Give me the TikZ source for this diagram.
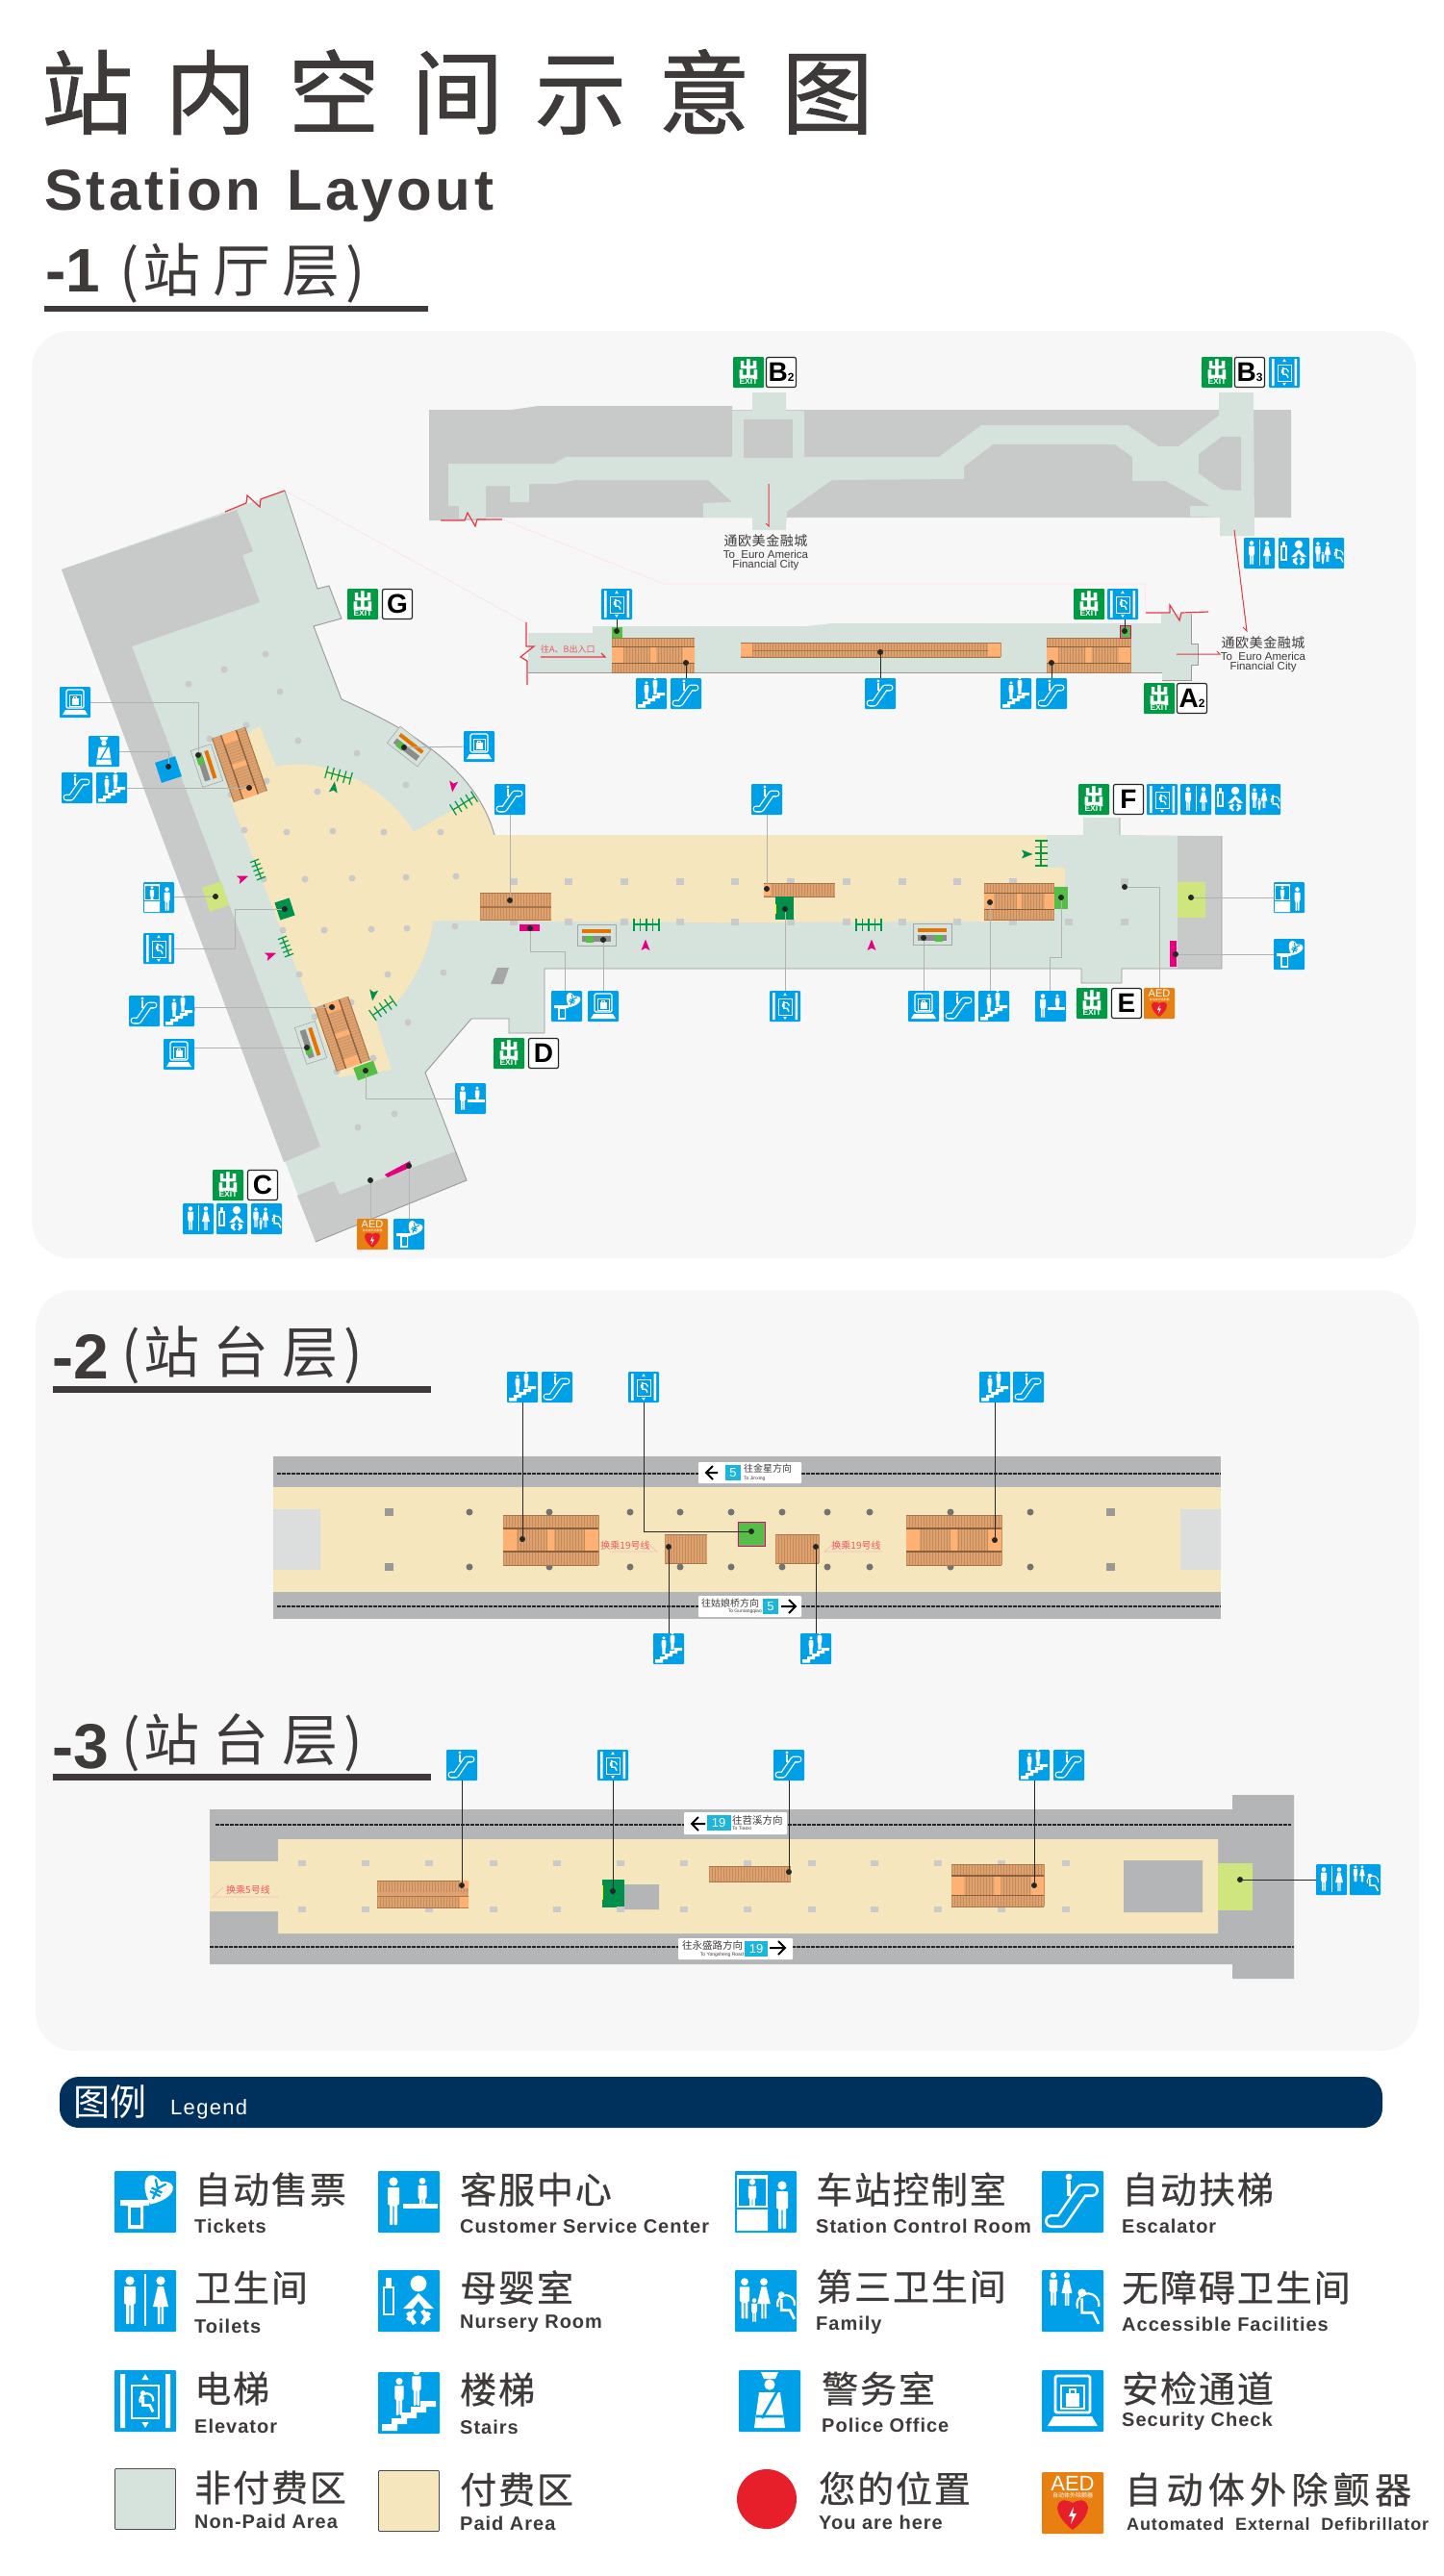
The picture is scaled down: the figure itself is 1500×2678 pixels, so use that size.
\documentclass[tikz,border=0pt]{standalone}
\usepackage{fontspec}
\setmainfont{Liberation Sans}
\newfontfamily\cjk{Noto Sans CJK SC}
\usetikzlibrary{calc}
\definecolor{ink}{HTML}{3E3A39}
\definecolor{panel}{HTML}{F7F7F7}
\definecolor{nonpaid}{HTML}{D5E3DC}
\definecolor{paid}{HTML}{F5E6BE}
\definecolor{shell}{HTML}{C8C9C9}
\definecolor{shellb}{HTML}{B4B5B6}
\definecolor{endgrey}{HTML}{DCDDDD}
\definecolor{signblue}{HTML}{00A0E9}
\definecolor{exitgreen}{HTML}{009944}
\definecolor{aedorange}{HTML}{E77F11}
\definecolor{esctan}{HTML}{DDA270}
\definecolor{eschatch}{HTML}{C48A58}
\definecolor{esclight}{HTML}{FFB173}
\definecolor{liftgreen}{HTML}{55BE47}
\definecolor{liftdark}{HTML}{00904C}
\definecolor{lime}{HTML}{CFE67F}
\definecolor{magmark}{HTML}{E4007F}
\definecolor{breakred}{HTML}{E83845}
\definecolor{herered}{HTML}{E71F2B}
\definecolor{navy}{HTML}{00305C}
\definecolor{badge}{HTML}{1CB5DC}
\definecolor{pillar}{HTML}{C9CACB}
\newcommand\pxfont[1]{\fontsize{#1}{#1}\selectfont}
\newcommand\ik{1}
\newcommand\exittext{{\cjk\bfseries\pxfont{22}出}\\[-5pt]{\bfseries\pxfont{8.5}EXIT}}
% one hatched flight, x1 y1 x2 y2
\newcommand\escband[4]{%
  \fill[esctan] (#1,#2) rectangle (#3,#4);
  \pgfmathsetmacro\hnext{#1+3}
  \foreach \hx in {#1,\hnext,...,#3} \draw[eschatch,line width=.45pt] (\hx,#2) -- (\hx,#4);
  \draw[eschatch!85!black,line width=1pt] (#1,#2) -- (#3,#2) (#1,#4) -- (#3,#4);
}
% three flights side by side
\newcommand\escwide[4]{%
  \pgfmathsetmacro\yb{#2+.27*(#4-#2)}
  \pgfmathsetmacro\yc{#2+.73*(#4-#2)}
  \pgfmathsetmacro\xb{#1+.14*(#3-#1)}
  \pgfmathsetmacro\xc{#3-.14*(#3-#1)}
  \pgfmathsetmacro\xd{(#1+#3)/2-.035*(#3-#1)}
  \pgfmathsetmacro\xe{(#1+#3)/2+.035*(#3-#1)}
  \escband{#1}{#2}{#3}{\yb}
  \escband{#1}{\yb}{#3}{\yc}
  \escband{#1}{\yc}{#3}{#4}
  \fill[esclight] (#1,\yb) rectangle (\xb,\yc) (\xc,\yb) rectangle (#3,\yc) (\xd,\yb) rectangle (\xe,\yc);
  \draw[eschatch!70!black,line width=1.2pt] (#1,\yb) -- (#3,\yb) (#1,\yc) -- (#3,\yc);
}
\newcommand\icon[3]{\node[bluesign] (#1) at (#2) {}; \pic at (#1) {#3};}
\tikzset{>=stealth,
  bluesign/.style={fill=signblue,rounded corners=1pt,minimum size=32pt,inner sep=0pt},
  exitsign/.style={fill=exitgreen,text=white,rounded corners=1pt,minimum size=32pt,inner sep=0pt,align=center},
  lettersign/.style={fill=white,draw=black!85,line width=1.2pt,rounded corners=2pt,minimum size=31pt,inner sep=0pt,font=\bfseries\pxfont{28}},
  aedsign/.style={fill=aedorange,rounded corners=1pt,minimum size=32pt,inner sep=0pt},
  ptdot/.style={circle,fill=black!85,inner sep=0pt,minimum size=6pt},
  leader/.style={black!85,line width=1pt},
  leaderl/.style={black!30,line width=1pt},
  wall/.style={black!40,line width=.9pt},
  breakline/.style={breakred,line width=1.2pt},
  ghost/.style={magmark!12,line width=.7pt},
  track/.style={black!85,line width=2pt,dash pattern=on 4pt off 1pt},
  ipen/.style={white,line width=#1pt*\ik},
  maplabel/.style={inner sep=0pt,text=ink},
  legcn/.style={anchor=west,inner sep=0pt,text=ink,font=\cjk\pxfont{38}\addfontfeature{LetterSpace=5,FakeBold=.6}},
  legen/.style={anchor=west,inner sep=0pt,text=ink,font=\bfseries\pxfont{20}\addfontfeature{LetterSpace=5}},
  redlabel/.style={inner sep=0pt,text=breakred!85,font=\cjk\pxfont{10}},
  manfig/.pic={\fill[white] (0,-10.5) circle (2.3);
    \fill[white,rounded corners=.8pt] (-3,-7.5) -- (3,-7.5) -- (3,1.5) -- (2,1.5) -- (2,12) -- (.3,12) -- (.3,2) -- (-.3,2) -- (-.3,12) -- (-2,12) -- (-2,1.5) -- (-3,1.5) -- cycle;},
  womanfig/.pic={\fill[white] (0,-10.5) circle (2.3);
    \fill[white] (-1.5,-7.5) -- (1.5,-7.5) -- (4,3) -- (1.6,3) -- (1.6,12) -- (.3,12) -- (.3,3) -- (-.3,3) -- (-.3,12) -- (-1.6,12) -- (-1.6,3) -- (-4,3) -- cycle;},
  wheelfig/.pic={\fill[white] (-1,-8) circle (1.9);
    \draw[ipen=1.4] (-1,-5.5) -- (-1,1) -- (4,1) -- (6.5,6);
    \draw[ipen=1.1] (-3,-1) arc[start angle=160,end angle=370,radius=5];},
  esc/.pic={\draw[white,line width=7pt*\ik,line cap=round,line join=round] (-11,10) -- (-6,10) -- (5,-6) -- (10,-6);
    \draw[signblue,line width=4.4pt*\ik,line cap=round,line join=round] (-11,10) -- (-6,10) -- (5,-6) -- (10,-6);
    \fill[white] (-2,-13) circle (1.7);
    \draw[ipen=1.6] (-2,-11) -- (-2,-3);},
  stairs/.pic={\fill[white] (-14,14.5) -- (-14,11) -- (-9,11) -- (-9,8) -- (-4,8) -- (-4,5) -- (1,5) -- (1,2) -- (6,2) -- (6,-1) -- (14,-1) -- (14,2) -- (9,2) -- (9,5) -- (4,5) -- (4,8) -- (-1,8) -- (-1,11) -- (-6,11) -- (-6,14.5) -- cycle;
    \pic[transform shape,scale=.78] at (-5,-3) {manfig};
    \pic[transform shape,scale=.78] at (4,-8) {manfig};},
  elev/.pic={\fill[white] (-13,-14) rectangle (-10.5,14) (10.5,-14) rectangle (13,14);
    \draw[ipen=1] (-7,-8) rectangle (7,9);
    \pic[transform shape,scale=.7] at (-.5,1.5) {wheelfig};
    \fill[white] (0,-14) -- (1.8,-11) -- (-1.8,-11) -- cycle (0,14) -- (1.8,11) -- (-1.8,11) -- cycle;},
  toilet/.pic={\pic[transform shape] at (-8,0) {manfig}; \pic[transform shape] at (8,0) {womanfig}; \draw[ipen=.8] (0,-14) -- (0,13);},
  nursery/.pic={\draw[ipen=1.2] (-13,-7) rectangle (-8,7); \fill[white] (-12,-12) rectangle (-9,-7);
    \fill[white] (5,-9) circle (4.2);
    \fill[white] (5,-4) -- (13,4) -- (8,4) -- (5,0) -- (2,4) -- (-3,4) -- cycle;
    \draw[ipen=2.2] (-.5,6) -- (3,12) (10.5,6) -- (7,12) (3,5) -- (-.5,10) (7,5) -- (10.5,10);},
  family/.pic={\pic[transform shape,scale=.85] at (-11,-1) {manfig}; \pic[transform shape,scale=.85] at (-1,-1) {womanfig};
    \pic[transform shape,scale=.5] at (-6,5) {manfig}; \pic[transform shape,scale=.9] at (9,4) {wheelfig};},
  access/.pic={\pic[transform shape,scale=.7] at (-10,-6) {manfig}; \pic[transform shape,scale=.7] at (-3,-6) {womanfig}; \pic[transform shape,scale=1.15] at (6,5) {wheelfig};},
  ticket/.pic={\fill[white] (-13,-1) -- (2,-1) -- (2,2) -- (-1,2) -- (-1,14) -- (-9,14) -- (-9,2) -- (-13,2) -- cycle;
    \fill[signblue] (-7.5,3) rectangle (-2.5,12);
    \begin{scope}[shift={(6,-6)},rotate=-25]
      \fill[white] (0,8) .. controls (-11,0) and (-9,-10) .. (0,-5) .. controls (9,-10) and (11,0) .. (0,8) -- cycle;
      \draw[signblue,line width=1.1pt*\ik] (-3,-5) -- (0,-1) -- (3,-5) (0,-1) -- (0,5) (-3,0) -- (3,0) (-3,2) -- (3,2);
    \end{scope}},
  service/.pic={\pic[transform shape] at (-8,0) {manfig}; \pic[transform shape,scale=.75] at (7,-3) {manfig};
    \fill[signblue] (0,2) rectangle (15,12);
    \fill[white] (-3,1) rectangle (15,3.5);},
  control/.pic={\fill[white] (-15,-14) rectangle (1,-12) (-15,2) rectangle (1,15);
    \draw[ipen=1] (-14.5,-12) -- (-14.5,2) (.5,-12) -- (.5,2);
    \pic[transform shape,scale=.7] at (-7,-3) {manfig};
    \fill[signblue] (-15,3) rectangle (1,3.8);
    \pic[transform shape] at (8.5,2) {manfig};},
  police/.pic={\fill[white] (-4.5,-15) -- (4.5,-15) -- (3,-11.5) -- (-3,-11.5) -- cycle;
    \fill[white] (0,-8.5) circle (2.8);
    \fill[white] (-8,14) -- (-5.5,-4.5) -- (5.5,-4.5) -- (8,14) -- cycle;
    \draw[signblue,line width=1.3pt*\ik] (4,-5) -- (-4,9) (-7,8) -- (7,8);},
  security/.pic={\draw[ipen=1.4,rounded corners=1.5pt] (-9,-13) rectangle (9,6);
    \draw[ipen=.8] (-6,-8) rectangle (6,4);
    \fill[white] (-3.5,-4) rectangle (3.5,3);
    \draw[ipen=.8] (-1.5,-4) -- (-1.5,-6) -- (1.5,-6) -- (1.5,-4);
    \fill[white] (-10,8) -- (10,8) -- (13,13) -- (-13,13) -- cycle;},
  aedmark/.pic={\pgfmathsetmacro\aedf{11*\ik}\pgfmathsetmacro\aedg{3*\ik}
    \node[text=white,inner sep=0pt,font=\pxfont{\aedf}] (aedtxt) at (0,-10) {AED};
    \node[text=white,inner sep=0pt,font=\cjk\pxfont{\aedg}] (aedsub) at (0,-4) {自动体外除颤器};
    \fill[herered] (0,14) .. controls (-12,5) and (-9,-5) .. (0,0) .. controls (9,-5) and (12,5) .. (0,14) -- cycle;
    \fill[white] (.5,2) -- (-2,7) -- (0,7) -- (-1,11) -- (2,5.5) -- (0,5.5) -- cycle;},
  rail/.pic={\draw[exitgreen,line width=1.2pt] (-13,0) -- (13,0);
    \foreach \rx in {-13,-6.5,0,6.5,13} \draw[exitgreen,line width=1.2pt] (\rx,-6.5) -- (\rx,6.5);},
  flowmark/.pic={\fill[pic actions] (0,-6.5) -- (4.5,5) -- (0,2.5) -- (-4.5,5) -- cycle;},
  gate/.pic={\draw[black!35,fill=nonpaid,line width=.6pt] (-20,-11) rectangle (20,11);
    \fill[orange!90!black] (-15,-6) rectangle (15,-2);
    \fill[black!45] (-15,1) rectangle (15,7);
    \fill[liftgreen] (3,1) rectangle (11,8);}
}
\begin{document}
\begin{tikzpicture}[x=1pt,y=-1pt]
  \useasboundingbox (0,0) rectangle (1500,2678);
  \fill[white] (0,0) rectangle (1500,2678);
  % headings
  \node[anchor=base west,inner sep=0pt,text=ink,font=\cjk\pxfont{95}\addfontfeature{LetterSpace=35,FakeBold=1.2}] (maintitle) at (43,132) {站内空间示意图};
  \node[anchor=base west,inner sep=0pt,text=ink,font=\bfseries\pxfont{60}\addfontfeature{LetterSpace=6}] (subtitle) at (46,218) {Station\kern7pt\ Layout};
  \node[anchor=base west,inner sep=0pt,text=ink,font=\bfseries\pxfont{64}] (floora) at (47,303) {-1};
  \node[anchor=base west,inner sep=0pt,text=ink,font=\cjk\pxfont{60}\addfontfeature{LetterSpace=21}] (floorat) at (124,303) {(\kern4pt 站厅层\kern6pt)};
  \fill[ink] (46,318) rectangle (445,324);
  % panels
  \fill[panel,rounded corners=40pt] (33,344) rectangle (1472,1308);
  \fill[panel,rounded corners=40pt] (37,1341) rectangle (1475,2132);
  % top hall
  \fill[shell] (446,426) -- (531,426) -- (560,422) -- (761,422) -- (761,426) -- (1342,426) -- (1342,538) -- (505,538) -- (505,541) -- (446,541) -- cycle;
  \fill[nonpaid] (466,482) -- (576,482) -- (588,475) -- (761,475) -- (761,427) -- (782,427) -- (782,408) -- (817,408) -- (817,427) -- (836,427) -- (836,475) -- (976,475) -- (1020,442) -- (1172,442) -- (1204,464) -- (1225,464) -- (1267,432) -- (1267,408) -- (1303,408) -- (1304,557) -- (1268,557) -- (1268,538) -- (1237,537) -- (1237,526) -- (1258,526) -- (1212,500) -- (1177,500) -- (1177,475) -- (1159,462) -- (1032,462) -- (1002,485) -- (1002,498) -- (865,499) -- (818,532) -- (817,551) -- (782,551) -- (782,538) -- (731,538) -- (731,523) -- (761,522) -- (736,499) -- (598,499) -- (579,503) -- (550,503) -- (550,522) -- (530,522) -- (530,505) -- (505,505) -- (505,539) -- (477,539) -- (477,526) -- (466,526) -- cycle;
  \fill[shell] (773,436) rectangle (824,476);
  \fill[shell] (1270,454) -- (1290,454) -- (1290,510) -- (1270,509) -- (1246,492) -- (1246,472) -- cycle;
  \draw[breakline] (458,541) -- (483,541) -- (486,533) -- (494,547) -- (496,540) -- (522,540);
  \draw[ghost] (522,540) -- (690,607) -- (1190,607) -- (1191,637);
  \draw[ghost] (296,510) -- (546,647);
  % second corridor
  \fill[nonpaid] (549,658) -- (616,658) -- (616,651) -- (838,651) -- (865,648) -- (1207,648) -- (1207,638) -- (1238,638) -- (1238,669) -- (1245,669) -- (1245,691) -- (1238,691) -- (1238,707) -- (1208,707) -- (1208,699) -- (549,699) -- cycle;
  \draw[wall] (549,699) -- (1208,699);
  \draw[wall] (1238,638) -- (1238,669) -- (1245,669) -- (1245,691) -- (1238,691) -- (1238,707) -- (1208,707);
  \draw[breakline] (547,647) -- (547,672) -- (555,672) -- (541,683) -- (548,687) -- (548,712);
  \draw[breakline] (1191,637) -- (1216,637) -- (1216,629) -- (1226,645) -- (1228,637) -- (1256,636);
  \node[redlabel,anchor=west,font=\cjk\pxfont{9}] (towardsab) at (562,675) {往A、B出入口};
  \draw[breakline] (562,683) -- (629,683) -- (625,679);
  \escwide{636}{663}{722}{699}
  \escband{770}{668}{1040}{676}
  \escband{770}{676}{1040}{683}
  \fill[esclight] (770,669) rectangle (782,682) (1027,669) rectangle (1040,682);
  \escwide{1088}{663}{1175}{699}
  \fill[liftgreen] (636,652) rectangle (647,663);
  \fill[liftgreen,draw=magmark,line width=1pt] (1164,650) rectangle (1175,663);
  % main hall, green then walls then paid area
  \fill[nonpaid] (234,532) -- (296,510) -- (330,612) -- (342,609) -- (355,643) -- (326,651) -- (355,727) .. controls (430,760) and (495,800) .. (514,868) -- (1126,868) -- (1126,850) -- (1164,850) -- (1164,868) -- (1270,869) -- (1270,1007) -- (1166,1007) -- (1166,1022) -- (1124,1022) -- (1124,1007) -- (566,1007) -- (566,1074) -- (529,1074) -- (529,1059) -- (490,1059) -- (442,1115) -- (485,1227) -- (328,1291) -- (64,592) -- cycle;
  \fill[shell] (64,592) -- (246,530) -- (263,573) -- (252,577) -- (270,626) -- (137,672) -- (333,1192) -- (295,1208) -- cycle;
  \fill[shell] (309,1243) -- (347,1228) -- (353,1242) -- (474,1197) -- (485,1227) -- (328,1291) -- cycle;
  \fill[shell] (1224,869) rectangle (1270,1007);
  \fill[paid] (245,770) -- (270,755) -- (287,797) .. controls (340,785) and (405,820) .. (430,865) -- (495,828) .. controls (503,840) and (510,855) .. (514,868) -- (1088,868) -- (1088,902) -- (1107,902) -- (1107,921) -- (1096,921) -- (1096,957) -- (1023,958) -- (750,959) -- (450,957) .. controls (447,990) and (428,1025) .. (411,1043) -- (388,1053) -- (407,1112) -- (352,1120) -- (239,830) -- cycle;
  \draw[wall] (296,510) -- (330,612) -- (342,609) -- (355,643) -- (326,651) -- (355,727);
  \draw[wall] (355,727) .. controls (430,760) and (495,800) .. (514,868);
  \draw[wall] (1164,850) -- (1164,868) (1270,869) -- (1270,1007) -- (1166,1007) -- (1166,1022) -- (1124,1022) -- (1124,1007) -- (566,1007) -- (566,1074) -- (529,1074) -- (529,1059) -- (490,1059) -- (442,1115) -- (485,1227) -- (328,1291);
  \draw[breakline] (234,532) -- (256,523) -- (257,515) -- (270,527) -- (271,519) -- (296,510);
  % pillars
  \foreach \px/\py in {276/680,233/696,196/711,291/719,256/754,218/768,310/770,371/783,422/816,277/812,330/823,240/826,254/863,298/865,346/864,399/865,458/865,274/914,317/914,366/913,422/912,474/911,294/967,337/967,386/966,423/965,473/963,311/1013,403/1013,461/1011,365/1042,327/1057,424/1063,388/1100,350/1114,410/1158,372/1172}
    \fill[pillar] (\px,\py) circle (3.5);
  \foreach \px in {534,591,649,707,764,822,880,938,995,1053,1169}
    \fill[pillar] (\px-4,912.5) rectangle (\px+4,919.5);
  \foreach \px in {534,591,649,707,764,822,880,938,995,1053,1111,1169}
    \fill[pillar] (\px-4,954.5) rectangle (\px+4,961.5);
  % moving stairs and fittings of the main hall
  \escband{499}{928}{573}{942}
  \escband{499}{943}{573}{956}
  \escband{794}{918}{868}{932}
  \fill[esclight] (794,919) rectangle (801,931);
  \escwide{1023}{918}{1096}{956}
  \fill[liftdark] (806,932) rectangle (825,956);
  \fill[yellow] (806,940) rectangle (807,950);
  \fill[liftgreen] (1096,922) rectangle (1110,945);
  \fill[lime] (1224,917) rectangle (1253,954);
  \fill[magmark] (1216,978) rectangle (1223,1005);
  \fill[magmark] (540,961) rectangle (561,968);
  \fill[black!35] (510,1023) -- (517,1006) -- (529,1006) -- (523,1023) -- cycle;
  \fill[magmark] (400,1221) -- (426,1207) -- (428,1213) -- (403,1224) -- cycle;
  \begin{scope}[shift={(249,795)},rotate=-71] \escwide{-35}{-18}{35}{18} \end{scope}
  \begin{scope}[shift={(356,1075)},rotate=-71] \escwide{-35}{-18}{35}{18} \end{scope}
  \pic[rotate=-72,xscale=-1] at (215,796) {gate};
  \pic[rotate=-72] at (323,1084) {gate};
  \pic[rotate=-38,xscale=-1] at (425,776) {gate};
  \pic at (969,971) {gate};
  \pic[xscale=-1] at (620,972) {gate};
  \fill[signblue,rotate around={18:(175,800)}] (164,789) rectangle (186,811);
  \fill[lime,rotate around={18:(224,932)}] (213.5,919) rectangle (234.5,945);
  \fill[liftdark,rotate around={18:(296,945)}] (288,935.5) rectangle (304,954.5);
  \fill[liftgreen,rotate around={20:(380,1113)}] (369,1106) rectangle (391,1120);
  \pic at (672,961) {rail};
  \pic at (903,961) {rail};
  \pic[rotate=90] at (1082,887) {rail};
  \pic[rotate=-15] at (352,806) {rail};
  \pic[rotate=32] at (482,835) {rail};
  \pic[rotate=-69,scale=.75] at (268,904) {rail};
  \pic[rotate=-69,scale=.75] at (297,984) {rail};
  \pic[rotate=35] at (398,1048) {rail};
  \pic[fill=magmark] at (671,983) {flowmark};
  \pic[fill=magmark] at (906,983) {flowmark};
  \pic[fill=liftdark,rotate=-90] at (1067,888) {flowmark};
  \pic[fill=liftdark,rotate=-8] at (347,819) {flowmark};
  \pic[fill=magmark,rotate=172] at (471,817) {flowmark};
  \pic[fill=magmark,rotate=-70] at (252,913) {flowmark};
  \pic[fill=magmark,rotate=-70] at (281,993) {flowmark};
  \pic[fill=liftdark,rotate=172] at (388,1034) {flowmark};
  % exits
  \node[exitsign] (exB2) at (778,387) {\exittext};
  \node[lettersign] (ltB2) at (812,387) {B\pxfont{12}2};
  \node[exitsign] (exB3) at (1265,387) {\exittext};
  \node[lettersign] (ltB3) at (1299,387) {B\pxfont{12}3};
  \node[exitsign] (exG) at (377,628) {\exittext};
  \node[lettersign] (ltG) at (413,628) {G};
  \node[exitsign] (exA) at (1132,628) {\exittext};
  \node[exitsign] (exAb) at (1205,726) {\exittext};
  \node[lettersign] (ltA) at (1239,726) {A\pxfont{12}2};
  \node[exitsign] (exF) at (1137,831) {\exittext};
  \node[lettersign] (ltF) at (1173,831) {F};
  \node[exitsign] (exE) at (1135,1043) {\exittext};
  \node[lettersign] (ltE) at (1171,1043) {E};
  \node[exitsign] (exD) at (529,1095) {\exittext};
  \node[lettersign] (ltD) at (565,1095) {D};
  \node[exitsign] (exC) at (237,1232) {\exittext};
  \node[lettersign] (ltC) at (273,1232) {C};
  % notes about the walkway
  \draw[breakline,line width=1pt] (799,503) -- (799,547) -- (796,544);
  \draw[breakline,line width=1pt] (1283,551) -- (1296,656) -- (1292,652);
  \draw[breakline,line width=1pt] (1223,680) -- (1268,680) -- (1265,677);
  \node[maplabel,font=\cjk\pxfont{14}\addfontfeature{LetterSpace=4}] (euro) at (796,562) {通欧美金融城};
  \node[maplabel,font=\pxfont{11.5}] (euroa) at (796,576) {To\ \ Euro America};
  \node[maplabel,font=\pxfont{11.5}] (eurob) at (796,588) {Financial City};
  \node[maplabel,font=\cjk\pxfont{14}\addfontfeature{LetterSpace=4}] (eurc) at (1313,668) {通欧美金融城};
  \node[maplabel,font=\pxfont{11.5}] (eurd) at (1313,682) {To\ \ Euro America};
  \node[maplabel,font=\pxfont{11.5}] (eure) at (1313,694) {Financial City};
  % signs of floor -1
  \icon{sgElB}{1335,387}{elev}
  \icon{sgToB}{1309,575}{toilet}
  \icon{sgNuB}{1345,575}{nursery}
  \icon{sgFaB}{1381,575}{family}
  \icon{sgElA}{641,628}{elev}
  \icon{sgStA}{677,721}{stairs}
  \icon{sgEsA}{713,721}{esc}
  \icon{sgElC}{1167,628}{elev}
  \icon{sgEsB}{915,721}{esc}
  \icon{sgStC}{1056,721}{stairs}
  \icon{sgEsC}{1093,721}{esc}
  \icon{sgScG}{78,730}{security}
  \icon{sgPoG}{108,781}{police}
  \icon{sgEsG}{80,819}{esc}
  \icon{sgStG}{116,819}{stairs}
  \icon{sgScN}{498,776}{security}
  \icon{sgEsN}{530,831}{esc}
  \icon{sgEsH}{797,831}{esc}
  \icon{sgElF}{1208,831}{elev}
  \icon{sgToF}{1243,831}{toilet}
  \icon{sgNuF}{1279,831}{nursery}
  \icon{sgFaF}{1315,831}{family}
  \icon{sgCoW}{165,933}{control}
  \icon{sgElW}{165,986}{elev}
  \icon{sgEsL}{150,1051}{esc}
  \icon{sgStL}{186,1051}{stairs}
  \icon{sgScL}{186,1096}{security}
  \icon{sgTiD}{589,1046}{ticket}
  \icon{sgScD}{627,1046}{security}
  \icon{sgElD}{816,1046}{elev}
  \icon{sgScE}{960,1046}{security}
  \icon{sgEsE}{997,1046}{esc}
  \icon{sgStE}{1033,1046}{stairs}
  \icon{sgSeE}{1092,1046}{service}
  \icon{sgCoR}{1340,933}{control}
  \icon{sgTiR}{1340,992}{ticket}
  \icon{sgSeC}{489,1142}{service}
  \icon{sgToC}{206,1267}{toilet}
  \icon{sgNuC}{241,1267}{nursery}
  \icon{sgFaC}{277,1267}{family}
  \icon{sgTiC}{425,1283}{ticket}
  \node[aedsign] (aedC) at (387,1283) {}; \pic at (aedC) {aedmark};
  \node[aedsign] (aedE) at (1205,1043) {}; \pic at (aedE) {aedmark};
  % points and their leaders on floor -1
  \node[ptdot] (pElA) at (641,656) {};
  \node[ptdot] (pEsA) at (713,689) {};
  \node[ptdot] (pEsB) at (915,678) {};
  \node[ptdot] (pEsC) at (1093,689) {};
  \node[ptdot] (pElC) at (1169,656) {};
  \draw[leader] (sgElA) -- (pElA);
  \draw[leader] (sgEsA) -- (pEsA);
  \draw[leader] (sgEsB) -- (pEsB);
  \draw[leader] (sgEsC) -- (pEsC);
  \draw[leader] (pElC) -- (pElC |- sgElC.south);
  \node[ptdot] (pScG) at (206,785) {};
  \node[ptdot] (pPoG) at (175,797) {};
  \node[ptdot] (pEsG) at (259,819) {};
  \node[ptdot] (pScN) at (420,777) {};
  \node[ptdot] (pEsN) at (530,936) {};
  \node[ptdot] (pEsH) at (797,924) {};
  \node[ptdot] (pElD) at (816,945) {};
  \node[ptdot] (pCoW) at (224,932) {};
  \node[ptdot] (pElW) at (296,945) {};
  \node[ptdot] (pEsL) at (345,1047) {};
  \node[ptdot] (pScL) at (319,1089) {};
  \node[ptdot] (pTiD) at (551,965) {};
  \node[ptdot] (pScD) at (627,977) {};
  \node[ptdot] (pScE) at (960,975) {};
  \node[ptdot] (pStE) at (1029,938) {};
  \node[ptdot] (pSeE) at (1103,933) {};
  \node[ptdot] (pAeE) at (1169,922) {};
  \node[ptdot] (pCoR) at (1238,933) {};
  \node[ptdot] (pTiR) at (1222,992) {};
  \node[ptdot] (pSeC) at (380,1113) {};
  \node[ptdot] (pTiC) at (425,1212) {};
  \node[ptdot] (pAeC) at (385,1227) {};
  \draw[leaderl] (sgScG) -| (pScG);
  \draw[leaderl] (sgPoG) -| (pPoG);
  \draw[leaderl] (sgStG) -- (pEsG);
  \draw[leaderl] (sgScN) -- (pScN);
  \draw[leaderl] (sgEsN) -- (pEsN);
  \draw[leaderl] (sgEsH) -- (pEsH);
  \draw[leaderl] (sgElD) -- (pElD);
  \draw[leaderl] (sgCoW) -- (pCoW);
  \draw[leaderl] (sgElW.east) -- (244,986) |- (pElW);
  \draw[leaderl] (sgStL.east) -- (pEsL -| sgStL.east) -- (pEsL);
  \draw[leaderl] (pScL -| sgScL.east) -- (pScL);
  \draw[leaderl] (pTiD) |- (587,989) -- (sgTiD.north -| 587,989);
  \draw[leaderl] (sgScD) -- (pScD);
  \draw[leaderl] (sgScE) -- (pScE);
  \draw[leaderl] (pStE) -- (pStE |- sgStE.north);
  \draw[leaderl] (pSeE) |- (1091,995) -- (sgSeE.north -| 1091,995);
  \draw[leaderl] (pAeE) -| (aedE);
  \draw[leaderl] (pCoR) -- (sgCoR);
  \draw[leaderl] (pTiR) -- (sgTiR);
  \draw[leaderl] (pSeC) |- (sgSeC);
  \draw[leaderl] (pTiC) -- (sgTiC);
  \draw[leaderl] (pAeC) -- (pAeC |- aedC.north);
  % floor -2
  \node[anchor=base west,inner sep=0pt,text=ink,font=\bfseries\pxfont{66}] (floorb) at (54,1433) {-2};
  \node[anchor=base west,inner sep=0pt,text=ink,font=\cjk\pxfont{58}\addfontfeature{LetterSpace=24}] (floorbt) at (126,1427) {(\kern4pt 站台层\kern6pt)};
  \fill[ink] (55,1441) rectangle (448,1448);
  \fill[shellb] (284,1514) rectangle (1269,1683);
  \fill[paid] (284,1546) rectangle (1269,1655);
  \fill[endgrey] (284,1569) rectangle (333,1632) (1227,1569) rectangle (1269,1632);
  \draw[track] (288,1532) -- (1269,1532);
  \draw[track] (288,1670) -- (1269,1670);
  \foreach \px in {488,571,655,707,760,813,860,904,988,1071} {
    \fill[black!55] (\px,1572) circle (3.5);
    \fill[black!55] (\px,1629) circle (3.5);
  }
  \foreach \px in {404,1154} {
    \fill[black!40] (\px-4.5,1568) rectangle (\px+4.5,1576);
    \fill[black!40] (\px-4.5,1625) rectangle (\px+4.5,1633);
  }
  \escwide{523}{1575}{622}{1627}
  \escwide{942}{1575}{1041}{1627}
  \escband{691}{1595}{735}{1625}
  \escband{806}{1595}{851}{1625}
  \fill[liftgreen,draw=magmark,line width=1pt] (767,1582) rectangle (795,1607);
  \node[redlabel] (xfera) at (650,1607) {换乘19号线};
  \node[redlabel] (xferb) at (890,1607) {换乘19号线};
  \draw[breakred!35,line width=.7pt] (634,1613) -- (683,1613) -- (675,1606);
  \draw[breakred!35,line width=.7pt] (917,1613) -- (857,1613) -- (865,1606);
  \fill[white,rounded corners=1pt] (726,1520) rectangle (833,1542);
  \draw[black,line width=2pt] (746,1531) -- (735,1531) (741,1524) -- (734,1531) -- (741,1538);
  \node[fill=badge,text=white,inner sep=0pt,minimum width=16pt,minimum height=16pt,font=\pxfont{13}] (bdga) at (762,1531) {5};
  \node[anchor=west,inner sep=0pt,text=ink,font=\cjk\pxfont{10}] (jinxa) at (773,1527) {往金星方向};
  \node[anchor=west,inner sep=0pt,text=ink,font=\pxfont{5}] (jinxb) at (773,1537) {To Jinxing};
  \fill[white,rounded corners=1pt] (726,1659) rectangle (833,1681);
  \draw[black,line width=2pt] (812,1670) -- (826,1670) (820,1663) -- (827,1670) -- (820,1677);
  \node[fill=badge,text=white,inner sep=0pt,minimum width=16pt,minimum height=16pt,font=\pxfont{13}] (bdgb) at (801,1670) {5};
  \node[anchor=west,inner sep=0pt,text=ink,font=\cjk\pxfont{10}] (gunia) at (729,1667) {往姑娘桥方向};
  \node[anchor=east,inner sep=0pt,text=ink,font=\pxfont{5}] (gunib) at (792,1675) {To Guniangqiao};
  \icon{bgStA}{543,1442}{stairs}
  \icon{bgEsA}{579,1442}{esc}
  \icon{bgElA}{669,1442}{elev}
  \icon{bgStC}{1034,1442}{stairs}
  \icon{bgEsC}{1069,1442}{esc}
  \icon{bgStD}{695,1714}{stairs}
  \icon{bgStE}{848,1714}{stairs}
  \node[ptdot] (qStA) at (543,1600) {};
  \node[ptdot] (qElA) at (781,1592) {};
  \node[ptdot] (qStC) at (1034,1601) {};
  \node[ptdot] (qStD) at (695,1608) {};
  \node[ptdot] (qStE) at (848,1608) {};
  \draw[leader] (bgStA) -- (qStA);
  \draw[leader] (bgElA) |- (qElA);
  \draw[leader] (bgStC) -- (qStC);
  \draw[leader] (bgStD) -- (qStD);
  \draw[leader] (bgStE) -- (qStE);
  % floor -3
  \node[anchor=base west,inner sep=0pt,text=ink,font=\bfseries\pxfont{66}] (floorc) at (54,1838) {-3};
  \node[anchor=base west,inner sep=0pt,text=ink,font=\cjk\pxfont{58}\addfontfeature{LetterSpace=24}] (floorct) at (126,1830) {(\kern4pt 站台层\kern6pt)};
  \fill[ink] (55,1844) rectangle (448,1851);
  \fill[shellb] (218,1881) rectangle (1281,2042) (1281,1866) rectangle (1345,2057);
  \fill[paid] (218,1935) rectangle (289,1987) (289,1912) rectangle (1266,2010);
  \fill[lime] (1266,1937) rectangle (1302,1986);
  \fill[shellb] (1168,1934) rectangle (1250,1988) (649,1959) rectangle (685,1985);
  \fill[liftdark] (626,1954) rectangle (649,1983);
  \fill[yellow] (626,1960) rectangle (627,1975);
  \draw[track] (224,1897) -- (1342,1897);
  \draw[track] (218,2024) -- (1345,2024);
  \foreach \px in {314,380,446,513,579,645,711,777,844,909,975,1041,1108} {
    \fill[pillar] (\px-4,1934) rectangle (\px+4,1940);
    \fill[pillar] (\px-4,1982) rectangle (\px+4,1988);
  }
  \escband{392}{1955}{487}{1967}
  \escband{392}{1971}{487}{1983}
  \fill[esctan] (392,1967) rectangle (487,1971);
  \fill[esclight] (478,1955) rectangle (487,1963) (478,1972) rectangle (487,1983);
  \escband{737}{1940}{822}{1956}
  \escwide{989}{1938}{1085}{1982}
  \node[redlabel] (xferc) at (258,1965) {换乘5号线};
  \draw[breakred!35,line width=.7pt] (289,1972) -- (221,1972) -- (232,1962);
  \fill[white,rounded corners=1pt] (711,1884) rectangle (818,1907);
  \draw[black,line width=2pt] (733,1896) -- (720,1896) (726,1889) -- (719,1896) -- (726,1903);
  \node[fill=badge,text=white,inner sep=0pt,minimum width=25pt,minimum height=16pt,font=\pxfont{13}] (bdgc) at (747,1895) {19};
  \node[anchor=west,inner sep=0pt,text=ink,font=\cjk\pxfont{10.5}] (tiaoa) at (761,1892) {往苕溪方向};
  \node[anchor=west,inner sep=0pt,text=ink,font=\pxfont{5}] (tiaob) at (761,1901) {To Tiaoxi};
  \fill[white,rounded corners=1pt] (705,2015) rectangle (824,2037);
  \draw[black,line width=2pt] (800,2025) -- (815,2025) (809,2018) -- (816,2025) -- (809,2032);
  \node[fill=badge,text=white,inner sep=0pt,minimum width=24pt,minimum height=16pt,font=\pxfont{13}] (bdgd) at (786,2026) {19};
  \node[anchor=west,inner sep=0pt,text=ink,font=\cjk\pxfont{10.5}] (yonga) at (709,2022) {往永盛路方向};
  \node[anchor=east,inner sep=0pt,text=ink,font=\pxfont{5}] (yongb) at (773,2032) {To Yongsheng Road};
  \icon{cgEsA}{480,1835}{esc}
  \icon{cgElA}{637,1835}{elev}
  \icon{cgEsB}{820,1835}{esc}
  \icon{cgStC}{1075,1835}{stairs}
  \icon{cgEsC}{1111,1835}{esc}
  \icon{cgToR}{1384,1954}{toilet}
  \icon{cgAcR}{1419,1954}{access}
  \node[ptdot] (rEsA) at (480,1960) {};
  \node[ptdot] (rElA) at (637,1966) {};
  \node[ptdot] (rEsB) at (820,1946) {};
  \node[ptdot] (rStC) at (1075,1960) {};
  \node[ptdot] (rToR) at (1289,1954) {};
  \draw[leader] (cgEsA) -- (rEsA);
  \draw[leader] (cgElA) -- (rElA);
  \draw[leader] (cgEsB) -- (rEsB);
  \draw[leader] (cgStC) -- (rStC);
  \draw[leader] (rToR) -- (cgToR);
  % legend
  \fill[navy,rounded corners=20pt] (62,2159) rectangle (1437,2212);
  \node[anchor=base west,inner sep=0pt,text=white,font=\cjk\pxfont{38}] (legcap) at (76,2199) {图例};
  \node[anchor=base west,inner sep=0pt,text=white,font=\pxfont{22}\addfontfeature{LetterSpace=6}] (legcapen) at (177,2198) {Legend};
  \begin{scope}
    \renewcommand\ik{2}
    \tikzset{bluesign/.append style={minimum size=64pt}, aedsign/.append style={minimum size=64pt}}
    \foreach \lx/\ly/\lk [count=\li] in {151/2289/ticket,425/2289/service,796/2289/control,1115/2289/esc,
        151/2392/toilet,425/2392/nursery,796/2392/family,1115/2392/access,
        151/2496/elev,425/2498/stairs,800/2496/police,1115/2496/security} {
      \node[bluesign] (lg\li) at (\lx,\ly) {};
      \pic[scale=2] at (lg\li) {\lk};
    }
    \node[aedsign] (lgaed) at (1115,2602) {};
    \pic[scale=2] at (lgaed) {aedmark};
  \end{scope}
  \node[fill=nonpaid,draw=black!70,rounded corners=1pt,minimum size=63pt,inner sep=0pt,line width=.8pt] (lgnon) at (151,2598) {};
  \node[fill=paid,draw=black!70,rounded corners=1pt,minimum size=63pt,inner sep=0pt,line width=.8pt] (lgpaid) at (425,2600) {};
  \node[circle,fill=herered,minimum size=62pt,inner sep=0pt] (lghere) at (797,2598) {};
  \foreach \tx/\tcy/\ty/\tc/\te [count=\ti] in {
      202/2276/2314/自动售票/Tickets, 478/2276/2314/客服中心/Customer Service Center,
      848/2276/2314/车站控制室/Station Control Room, 1166/2276/2314/自动扶梯/Escalator,
      202/2378/2418/卫生间/Toilets, 478/2378/2416/母婴室/Nursery Room,
      848/2377/2417/第三卫生间/Family, 1166/2378/2416/无障碍卫生间/Accessible Facilities,
      202/2483/2522/电梯/Elevator, 478/2484/2523/楼梯/Stairs,
      854/2483/2521/警务室/Police Office, 1166/2483/2517/安检通道/Security Check,
      202/2586/2621/非付费区/Non-Paid Area, 478/2588/2623/付费区/Paid Area,
      851/2587/2622/您的位置/You are here} {
    \node[legcn] (lc\ti) at (\tx,\tcy) {\tc};
    \node[legen] (le\ti) at (\tx,\ty) {\te};
  }
  \node[legcn,font=\cjk\pxfont{38}\addfontfeature{LetterSpace=14,FakeBold=.6}] (lcaed) at (1169,2588) {自动体外除颤器};
  \node[legen,font=\bfseries\pxfont{18}\addfontfeature{LetterSpace=5}] (leaed) at (1171,2624) {Automated\ \ External\ \ Defibrillator};
\end{tikzpicture}
\end{document}
